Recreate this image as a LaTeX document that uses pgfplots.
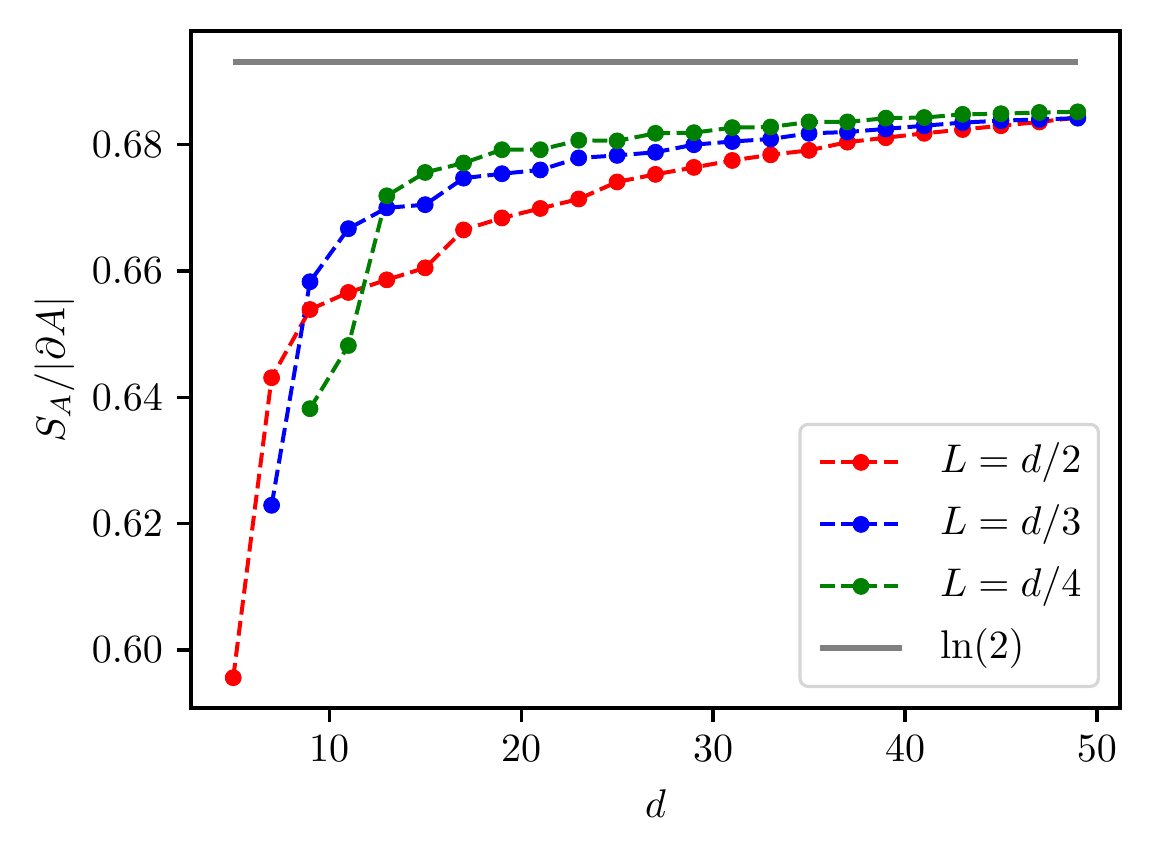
\documentclass[border=0pt]{standalone}
\usepackage{pgfplots}
\pgfplotsset{compat=1.18}
\definecolor{mplgreen}{RGB}{0,128,0}
\definecolor{legframe}{RGB}{214,214,214}
\begin{document}
\begin{tikzpicture}
\begin{axis}[
  scale only axis,
  width=232.25pt, height=169.25pt,
  xmin=2.8, xmax=51.2, ymin=0.5908, ymax=0.6980,
  xtick={10,20,30,40,50},
  ytick={0.60,0.62,0.64,0.66,0.68},
  yticklabel style={/pgf/number format/fixed,/pgf/number format/fixed zerofill,/pgf/number format/precision=2},
  tick align=outside, tick pos=left,
  major tick length=3.5pt,
  every tick/.style={line width=0.8pt, black},
  axis line style={line width=0.8pt},
  xlabel={$d$}, ylabel={$S_A/|\partial A|$},
  ylabel style={yshift=-2.5pt},
  legend style={at={(1,0)}, anchor=south east, xshift=-5pt, yshift=5pt,
    draw=legframe, rounded corners=2pt, line width=0.8pt,
    inner xsep=4.25pt, inner ysep=3pt, row sep=2.5pt,
    nodes={inner xsep=0pt, inner ysep=1.5pt, text height=7.5pt, text depth=2.5pt}},
  legend cell align=left,
  legend image code/.code={\draw[mark repeat=2,mark phase=2,#1] plot coordinates {(0pt,0pt) (10.25pt,0pt) (20.5pt,0pt)}; \path (29.25pt,0pt);},
]
\addplot[red, line width=1pt, dash pattern=on 3.7pt off 1.6pt, mark=*, mark size=2pt, mark options={solid, line width=0.2pt}] coordinates {
(5,0.5956) (7,0.6431) (9,0.6539) (11,0.6566) (13,0.6586) (15,0.6605) (17,0.6665) (19,0.6684) (21,0.6699) (23,0.6714)
(25,0.6741) (27,0.6753) (29,0.6764) (31,0.6775) (33,0.6784) (35,0.6791) (37,0.6804) (39,0.6811) (41,0.6818) (43,0.6824) (45,0.6830) (47,0.6836) (49,0.6843)};
\addlegendentry{$L = d/2$}
\addplot[blue, line width=1pt, dash pattern=on 3.7pt off 1.6pt, mark=*, mark size=2pt, mark options={solid, line width=0.2pt}] coordinates {
(7,0.6229) (9,0.6583) (11,0.6667) (13,0.6700) (15,0.6705) (17,0.6747) (19,0.6754) (21,0.6760) (23,0.6779)
(25,0.6783) (27,0.6788) (29,0.6800) (31,0.6805) (33,0.6809) (35,0.6818) (37,0.6820) (39,0.6825) (41,0.6830) (43,0.6835) (45,0.6838) (47,0.6840) (49,0.6842)};
\addlegendentry{$L = d/3$}
\addplot[mplgreen, line width=1pt, dash pattern=on 3.7pt off 1.6pt, mark=*, mark size=2pt, mark options={solid, line width=0.2pt}] coordinates {
(9,0.6382) (11,0.6482) (13,0.6719) (15,0.6756) (17,0.6771) (19,0.6792) (21,0.6792) (23,0.6807)
(25,0.6806) (27,0.6818) (29,0.6819) (31,0.6827) (33,0.6828) (35,0.6836) (37,0.6836) (39,0.6842) (41,0.6843) (43,0.6848) (45,0.6849) (47,0.6851) (49,0.6852)};
\addlegendentry{$L = d/4$}
\addplot[gray, line width=1.5pt, no marks] coordinates {(5,0.693147) (49,0.693147)};
\addlegendentry{$\ln(2)$}
\end{axis}
\pgfresetboundingbox
\useasboundingbox ([shift={(-47.75pt,-37.75pt)}]current axis.south west) rectangle ([shift={(7.75pt,7.75pt)}]current axis.north east);
\end{tikzpicture}
\end{document}
